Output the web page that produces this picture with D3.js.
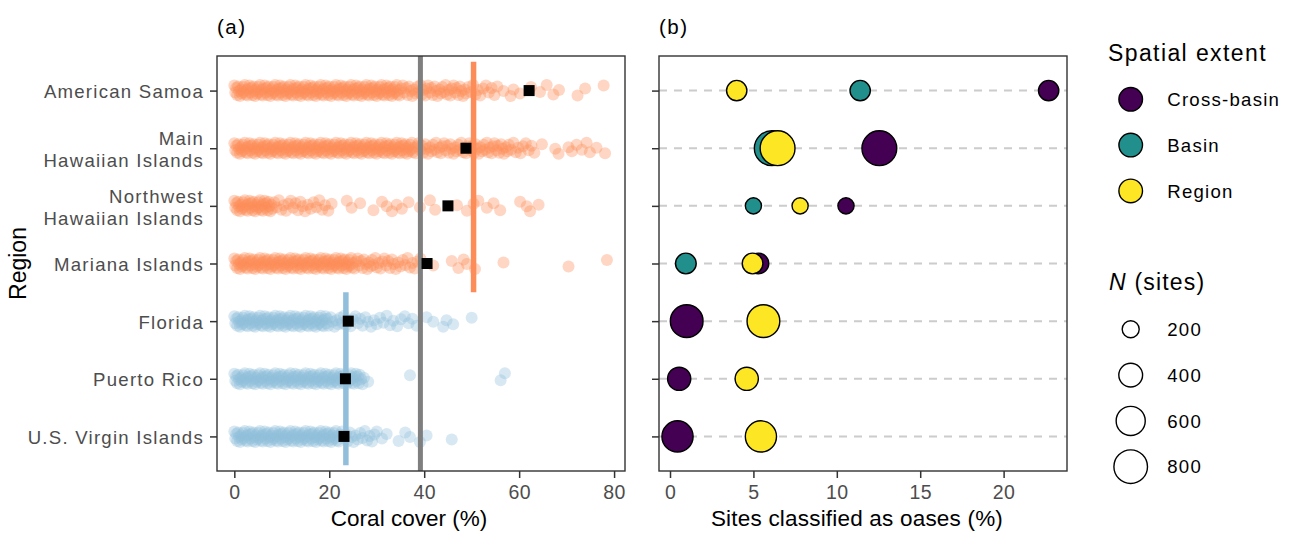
<!DOCTYPE html>
<html>
<head>
<meta charset="utf-8">
<title>Coral cover and oases by region</title>
<script src="https://cdn.jsdelivr.net/npm/d3@7"></script>
<style>
  body { margin: 0; background: #fff; }
  svg text { font-family: "Liberation Sans", Arial, Helvetica, sans-serif; }
</style>
</head>
<body>
<svg id="chart" width="1292" height="533"></svg>
<script>
var regions = ["American Samoa", "Main Hawaiian Islands", "Northwest Hawaiian Islands",
               "Mariana Islands", "Florida", "Puerto Rico", "U.S. Virgin Islands"];
var regionLines = [["American Samoa"], ["Main", "Hawaiian Islands"], ["Northwest", "Hawaiian Islands"],
                   ["Mariana Islands"], ["Florida"], ["Puerto Rico"], ["U.S. Virgin Islands"]];
var regionBasin = ["Pacific", "Pacific", "Pacific", "Pacific", "Atlantic", "Atlantic", "Atlantic"];

// coral cover (%) of each site
var coverAS = [0,0.2,0.4,0.6,0.8,1,1.2,1.4,1.6,1.8,2,2.2,2.4,2.6,2.8,3,3.2,3.4,3.6,3.8,4,4.2,4.4,4.6,4.8,5,5.2,5.4,5.6,5.8,6,6.2,6.4,6.6,6.8,7,7.2,7.4,7.6,7.8,8,8.2,8.4,8.6,8.8,9,9.2,9.4,9.6,9.8,
  10,10.2,10.4,10.6,10.8,11,11.2,11.4,11.6,11.8,12,12.2,12.4,12.6,12.8,13,13.2,13.4,13.6,13.8,14,14.2,14.4,14.6,14.8,15,15.2,15.4,15.6,15.8,16,16.2,16.4,16.6,16.8,17,17.2,17.4,17.6,17.8,18,18.2,18.4,18.6,18.8,19,19.2,19.4,19.6,19.8,
  20,20.2,20.4,20.6,20.8,21,21.2,21.4,21.6,21.8,22,22.2,22.4,22.6,22.8,23,23.2,23.4,23.6,23.8,24,24.2,24.4,24.6,24.8,25,25.2,25.4,25.6,25.8,26,26.2,26.4,26.6,26.8,27,27.2,27.4,27.6,27.8,28,28.2,28.4,28.6,28.8,29,29.2,29.4,29.6,29.8,
  30,30.2,30.4,30.6,30.8,31,31.2,31.4,31.6,31.8,32,32.2,32.4,32.6,32.8,33,33.2,33.4,33.6,33.8,34,34.2,34.4,34.6,34.8,
  35.2,35.5,35.8,36.2,36.5,36.8,37.2,37.5,37.8,38.2,38.5,38.8,39.2,39.5,39.8,40.2,40.5,40.8,41.2,41.5,41.8,42.2,42.5,42.8,43.2,43.5,43.8,44.2,44.5,44.8,
  45.2,45.5,45.8,46.2,46.5,46.8,47.2,47.5,47.8,48.2,48.5,48.8,49.3,49.8,50.3,50.8,51.3,51.8,52.4,53,53.6,54.2,54.8,55.4,
  56.7,58.2,58.8,60.2,62.5,64.4,65.8,67.2,68.4,72.3,73.9,77.8];
var coverMHI = [0,0.2,0.4,0.6,0.8,1,1.2,1.4,1.6,1.8,2,2.2,2.4,2.6,2.8,3,3.2,3.4,3.6,3.8,4,4.2,4.4,4.6,4.8,5,5.2,5.4,5.6,5.8,6,6.2,6.4,6.6,6.8,7,7.2,7.4,7.6,7.8,8,8.2,8.4,8.6,8.8,9,9.2,9.4,9.6,9.8,
  10,10.2,10.4,10.6,10.8,11,11.2,11.4,11.6,11.8,12,12.2,12.4,12.6,12.8,13,13.2,13.4,13.6,13.8,14,14.2,14.4,14.6,14.8,15,15.2,15.4,15.6,15.8,16,16.2,16.4,16.6,16.8,17,17.2,17.4,17.6,17.8,18,18.2,18.4,18.6,18.8,19,19.2,19.4,19.6,19.8,
  20,20.2,20.4,20.6,20.8,21,21.2,21.4,21.6,21.8,22,22.2,22.4,22.6,22.8,23,23.2,23.4,23.6,23.8,24,24.2,24.4,24.6,24.8,25,25.2,25.4,25.6,25.8,26,26.2,26.4,26.6,26.8,27,27.2,27.4,27.6,27.8,28,28.2,28.4,28.6,28.8,29,29.2,29.4,29.6,29.8,
  30,30.2,30.4,30.6,30.8,31,31.2,31.4,31.6,31.8,32,32.2,32.4,32.6,32.8,33,33.2,33.4,33.6,33.8,34,34.2,34.4,34.6,34.8,35,35.2,35.4,35.6,35.8,36,36.2,36.4,36.6,36.8,37,37.2,37.4,37.6,37.8,
  38.2,38.5,38.8,39.2,39.5,39.8,40.2,40.5,40.8,41.2,41.5,41.8,42.2,42.5,42.8,43.2,43.5,43.8,44.2,44.5,44.8,45.2,45.5,45.8,46.2,46.5,46.8,47.2,47.5,47.8,
  48.2,48.5,48.8,49.2,49.5,49.8,50.2,50.5,50.8,51.2,51.5,51.8,52.2,52.5,52.8,53.2,53.5,53.8,54.2,54.5,54.8,55.2,55.5,55.8,56.2,56.5,56.8,57.2,57.5,57.8,
  58.3,58.8,59.3,59.8,60.3,60.8,61.4,62,62.6,63.2,
  64.8,67.6,68.3,70.4,71.1,72.1,73.2,74.2,74.9,76.3,78.1];
var coverNWHI = [0,0.2,0.4,0.6,0.8,1,1.2,1.4,1.6,1.8,2,2.2,2.4,2.6,2.8,3,3.2,3.4,3.6,3.8,4,4.2,4.4,4.6,4.8,5,5.2,5.4,5.6,5.8,6,6.2,6.4,6.6,6.8,7,7.2,7.4,7.6,7.8,8,
  8.4,8.9,9.4,9.9,10.4,10.9,11.4,11.9,12.4,12.9,13.4,13.9,14.4,14.9,15.5,16.1,16.7,17.3,17.9,18.5,19.1,19.8,20.5,
  23.7,24.7,26.5,29.3,31.1,32.1,33.2,34.2,35.3,36.7,39.1,41.2,42.3,46.9,49,50.4,51.4,53.2,54.6,56,60.2,61.6,62.3,64.1];
var coverMariana = [0,0.2,0.4,0.6,0.8,1,1.2,1.4,1.6,1.8,2,2.2,2.4,2.6,2.8,3,3.2,3.4,3.6,3.8,4,4.2,4.4,4.6,4.8,5,5.2,5.4,5.6,5.8,6,6.2,6.4,6.6,6.8,7,7.2,7.4,7.6,7.8,8,8.2,8.4,8.6,8.8,9,9.2,9.4,9.6,9.8,
  10,10.2,10.4,10.6,10.8,11,11.2,11.4,11.6,11.8,12,12.2,12.4,12.6,12.8,13,13.2,13.4,13.6,13.8,14,14.2,14.4,14.6,14.8,15,15.2,15.4,15.6,15.8,16,16.2,16.4,16.6,16.8,17,17.2,17.4,17.6,17.8,18,18.2,18.4,18.6,18.8,19,19.2,19.4,19.6,19.8,
  20,20.2,20.4,20.6,20.8,21,21.2,21.4,21.6,21.8,22,22.2,22.4,22.6,22.8,23,23.2,23.4,23.6,23.8,24,24.2,24.4,24.6,24.8,25,
  25.3,25.7,26,26.3,26.7,27,27.3,27.7,28,28.3,28.7,29,29.3,29.7,30,30.4,30.8,31.2,31.6,32,32.4,32.8,33.2,33.6,34,34.5,35,35.5,36,36.5,37,37.5,38,38.6,39.2,
  41.9,45.8,47.2,48.3,49,50.7,56.7,70.4,78.5];
var coverFlorida = [0,0.2,0.4,0.6,0.8,1,1.2,1.4,1.6,1.8,2,2.2,2.4,2.6,2.8,3,3.2,3.4,3.6,3.8,4,4.2,4.4,4.6,4.8,5,5.2,5.4,5.6,5.8,6,6.2,6.4,6.6,6.8,7,7.2,7.4,7.6,7.8,8,8.2,8.4,8.6,8.8,9,9.2,9.4,9.6,9.8,
  10,10.2,10.4,10.6,10.8,11,11.2,11.4,11.6,11.8,12,12.2,12.4,12.6,12.8,13,13.2,13.4,13.6,13.8,14,14.2,14.4,14.6,14.8,15,15.2,15.4,15.6,15.8,16,16.2,16.4,16.6,16.8,17,17.2,17.4,17.6,17.8,18,18.2,18.4,18.6,18.8,19,19.2,19.4,19.6,19.8,
  20.3,20.7,21.1,21.5,21.9,22.3,22.7,23.1,23.5,24,24.5,25,25.5,26,26.5,27,27.6,28.2,28.8,29.4,30,30.7,31.4,32.1,32.8,33.5,34.3,35.1,35.9,36.7,37.5,
  38.4,40.5,41.9,44,44.7,46.1,50];
var coverPR = [0,0.2,0.4,0.6,0.8,1,1.2,1.4,1.6,1.8,2,2.2,2.4,2.6,2.8,3,3.2,3.4,3.6,3.8,4,4.2,4.4,4.6,4.8,5,5.2,5.4,5.6,5.8,6,6.2,6.4,6.6,6.8,7,7.2,7.4,7.6,7.8,8,8.2,8.4,8.6,8.8,9,9.2,9.4,9.6,9.8,
  10,10.2,10.4,10.6,10.8,11,11.2,11.4,11.6,11.8,12,12.2,12.4,12.6,12.8,13,13.2,13.4,13.6,13.8,14,14.2,14.4,14.6,14.8,15,15.2,15.4,15.6,15.8,16,16.2,16.4,16.6,16.8,17,17.2,17.4,17.6,17.8,18,18.2,18.4,18.6,18.8,19,19.2,19.4,19.6,19.8,
  20,20.2,20.4,20.6,20.8,21,21.2,21.4,21.6,21.8,22,22.2,22.4,22.6,22.8,23,23.2,23.4,23.6,23.8,24,24.2,24.4,24.6,24.8,25,25.2,25.4,25.6,25.8,26,
  26.2,26.4,26.7,27,27.3,28.2,37,56.1,57];
var coverUSVI = [0,0.2,0.4,0.6,0.8,1,1.2,1.4,1.6,1.8,2,2.2,2.4,2.6,2.8,3,3.2,3.4,3.6,3.8,4,4.2,4.4,4.6,4.8,5,5.2,5.4,5.6,5.8,6,6.2,6.4,6.6,6.8,7,7.2,7.4,7.6,7.8,8,8.2,8.4,8.6,8.8,9,9.2,9.4,9.6,9.8,
  10,10.2,10.4,10.6,10.8,11,11.2,11.4,11.6,11.8,12,12.2,12.4,12.6,12.8,13,13.2,13.4,13.6,13.8,14,14.2,14.4,14.6,14.8,15,15.2,15.4,15.6,15.8,16,16.2,16.4,16.6,16.8,17,17.2,17.4,17.6,17.8,18,18.2,18.4,18.6,18.8,19,19.2,19.4,19.6,19.8,
  20,20.2,20.4,20.6,20.8,21,21.2,21.4,21.6,21.8,22,
  22.3,22.7,23.1,23.5,23.9,24.3,24.7,25.1,25.5,26,26.5,27,27.5,28,28.5,29,29.5,30,
  31.1,32.1,34.6,36,37,39.1,40.5,45.8];
var coverByRegion = [coverAS, coverMHI, coverNWHI, coverMariana, coverFlorida, coverPR, coverUSVI];

var coverMeans = [62.1, 48.8, 45.0, 40.6, 24.0, 23.4, 23.1];
var basins = ["Pacific", "Atlantic"];
var basinMeans = [50.4, 23.5];
var overallMean = 39.2;

// panel (b): % of sites classified as oases, per spatial extent
var extents = ["Cross-basin", "Basin", "Region"];
var oasisCrossBasin = [22.7, 12.55, 10.55, 5.3, 1.0, 0.55, 0.45];
var oasisBasin = [11.4, 6.1, 5.0, 0.95, null, null, null];
var oasisRegion = [4.0, 6.45, 7.8, 4.95, 5.6, 4.6, 5.45];
var nSites = [290, 860, 180, 300, 760, 380, 690];

var coverTicks = [0, 20, 40, 60, 80];
var oasisTicks = [0, 5, 10, 15, 20];
var sizeBreaks = [200, 400, 600, 800];

var basinColor = { Pacific: "#FC8D59", Atlantic: "#91BFDB" };
var extentColor = { "Cross-basin": "#440154", "Basin": "#21908C", "Region": "#FDE725" };
var jitter = [-5, 2, -2.5, 4.5, -4, 0.5, 5.5, -1, 3, -3.5, 1.5, -5.5, 4, -0.5, 5, -2];

var svg = d3.select("#chart");
var plotTop = 56, plotBottom = 471;
var pa = { left: 217, right: 625 }, pb = { left: 659, right: 1067 };

var y = d3.scalePoint().domain(regions).range([plotTop, plotBottom]).padding(0.6);
var step = y.step();
var xa = d3.scaleLinear().domain([-3.65, 82.3]).range([pa.left, pa.right]);
var xb = d3.scaleLinear().domain([-0.66, 23.8]).range([pb.left, pb.right]);
// area grows linearly with N, like ggplot's scale_size
var area = d3.scaleLinear().domain([0, 800]).range([11, 306]);
function rad(n) { return Math.sqrt(area(n)) - 0.7; }

function styleAxis(g) {
    g.select(".domain").remove();
    g.selectAll(".tick line").attr("stroke", "#333").attr("stroke-width", 1.5);
    g.selectAll(".tick text").attr("fill", "#4D4D4D").attr("font-size", "19.5px").attr("letter-spacing", "0.4px");
}

// ---------- panel (a) ----------
var ga = svg.append("g");
var pts = [];
regions.forEach(function(r, i) {
    coverByRegion[i].forEach(function(v, k) {
        pts.push({ region: r, basin: regionBasin[i], value: v, k: k });
    });
});
ga.selectAll("circle.site")
    .data(pts)
    .enter()
    .append("circle")
    .attr("class", "site")
    .attr("cx", function(d) { return xa(d.value); })
    .attr("cy", function(d) { return y(d.region) + jitter[d.k % jitter.length]; })
    .attr("r", 6)
    .attr("fill", function(d) { return basinColor[d.basin]; })
    .attr("fill-opacity", 0.36);

ga.append("line")
    .attr("x1", xa(overallMean)).attr("x2", xa(overallMean))
    .attr("y1", plotTop).attr("y2", plotBottom)
    .attr("stroke", "#7F7F7F").attr("stroke-width", 5);

basins.forEach(function(b, i) {
    var rs = regions.filter(function(r, j) { return regionBasin[j] == b; });
    ga.append("line")
        .attr("x1", xa(basinMeans[i])).attr("x2", xa(basinMeans[i]))
        .attr("y1", y(rs[0]) - step / 2).attr("y2", y(rs[rs.length - 1]) + step / 2)
        .attr("stroke", basinColor[b]).attr("stroke-width", 5.5);
});

ga.selectAll("rect.mean")
    .data(coverMeans)
    .enter()
    .append("rect")
    .attr("class", "mean")
    .attr("x", function(d) { return xa(d) - 5.5; })
    .attr("y", function(d, i) { return y(regions[i]) - 5.5; })
    .attr("width", 11).attr("height", 11)
    .attr("fill", "#000");

ga.append("rect")
    .attr("x", pa.left).attr("y", plotTop)
    .attr("width", pa.right - pa.left).attr("height", plotBottom - plotTop)
    .attr("fill", "none").attr("stroke", "#333").attr("stroke-width", 1.4);

var axA = ga.append("g")
    .attr("transform", "translate(0," + plotBottom + ")")
    .call(d3.axisBottom(xa).tickValues(coverTicks).tickSize(7).tickPadding(7.5));
styleAxis(axA);

var ayA = ga.append("g")
    .attr("transform", "translate(" + pa.left + ",0)")
    .call(d3.axisLeft(y).tickSize(7).tickFormat(""));
styleAxis(ayA);
ayA.selectAll(".tick").each(function(d, i) {
    var lines = regionLines[i];
    var t = d3.select(this).append("text")
        .attr("text-anchor", "end")
        .attr("fill", "#4D4D4D")
        .attr("font-size", "18.6px")
        .attr("letter-spacing", "1.25px");
    lines.forEach(function(s, j) {
        t.append("tspan")
            .attr("x", -13)
            .attr("y", lines.length == 1 ? 7 : (j == 0 ? -3.6 : 18.4))
            .text(s);
    });
});

ga.append("text")
    .attr("x", 409).attr("y", 526)
    .attr("text-anchor", "middle").attr("font-size", "22.5px").attr("fill", "#000")
    .text("Coral cover (%)");
ga.append("text")
    .attr("transform", "translate(26," + ((plotTop + plotBottom) / 2) + ") rotate(-90)")
    .attr("text-anchor", "middle").attr("font-size", "23px").attr("fill", "#000")
    .text("Region");
ga.append("text")
    .attr("x", pa.left).attr("y", 33.5)
    .attr("font-size", "20.5px").attr("letter-spacing", "1.5px").attr("fill", "#000")
    .text("(a)");

// ---------- panel (b) ----------
var gb = svg.append("g");
gb.selectAll("line.grid")
    .data(regions)
    .enter()
    .append("line")
    .attr("class", "grid")
    .attr("x1", pb.left).attr("x2", pb.right)
    .attr("y1", function(d) { return y(d); }).attr("y2", function(d) { return y(d); })
    .attr("stroke", "#CCCCCC").attr("stroke-width", 2)
    .attr("stroke-dasharray", "8,7");

var oasisSeries = [oasisCrossBasin, oasisBasin, oasisRegion];
extents.forEach(function(ex, e) {
    var rows = [];
    oasisSeries[e].forEach(function(v, i) {
        if (v != null) rows.push({ region: regions[i], value: v, n: nSites[i] });
    });
    gb.selectAll("circle.ex" + e)
        .data(rows)
        .enter()
        .append("circle")
        .attr("class", "ex" + e)
        .attr("cx", function(d) { return xb(d.value); })
        .attr("cy", function(d) { return y(d.region); })
        .attr("r", function(d) { return rad(d.n); })
        .attr("fill", extentColor[ex])
        .attr("stroke", "#000").attr("stroke-width", 1.4);
});

gb.append("rect")
    .attr("x", pb.left).attr("y", plotTop)
    .attr("width", pb.right - pb.left).attr("height", plotBottom - plotTop)
    .attr("fill", "none").attr("stroke", "#333").attr("stroke-width", 1.4);

var axB = gb.append("g")
    .attr("transform", "translate(0," + plotBottom + ")")
    .call(d3.axisBottom(xb).tickValues(oasisTicks).tickSize(7).tickPadding(7.5));
styleAxis(axB);
var ayB = gb.append("g")
    .attr("transform", "translate(" + pb.left + ",0)")
    .call(d3.axisLeft(y).tickSize(7).tickFormat(""));
styleAxis(ayB);

gb.append("text")
    .attr("x", 857).attr("y", 526)
    .attr("text-anchor", "middle").attr("font-size", "22.5px").attr("letter-spacing", "0.2px").attr("fill", "#000")
    .text("Sites classified as oases (%)");
gb.append("text")
    .attr("x", pb.left).attr("y", 33.5)
    .attr("font-size", "20.5px").attr("letter-spacing", "1.5px").attr("fill", "#000")
    .text("(b)");

// ---------- legends ----------
var lg = svg.append("g");
lg.append("text")
    .attr("x", 1108).attr("y", 60.5)
    .attr("font-size", "23px").attr("letter-spacing", "1.4px")
    .text("Spatial extent");
var extKey = lg.selectAll("g.ext")
    .data(extents)
    .enter()
    .append("g")
    .attr("class", "ext")
    .attr("transform", function(d, i) { return "translate(1130.7," + (99.3 + i * 45.8) + ")"; });
extKey.append("circle")
    .attr("r", 11.8)
    .attr("fill", function(d) { return extentColor[d]; })
    .attr("stroke", "#000").attr("stroke-width", 1.4);
extKey.append("text")
    .attr("x", 36.5).attr("y", 6.6)
    .attr("font-size", "18.6px").attr("letter-spacing", "1.25px")
    .text(function(d) { return d; });

var nTitle = lg.append("text")
    .attr("x", 1109).attr("y", 290)
    .attr("font-size", "23px").attr("letter-spacing", "1.2px");
nTitle.append("tspan").attr("font-style", "italic").text("N");
nTitle.append("tspan").text(" (sites)");

var sizeKey = lg.selectAll("g.size")
    .data(sizeBreaks)
    .enter()
    .append("g")
    .attr("class", "size")
    .attr("transform", function(d, i) { return "translate(1130.7," + (329.3 + i * 45.8) + ")"; });
sizeKey.append("circle")
    .attr("r", function(d) { return rad(d); })
    .attr("fill", "#fff")
    .attr("stroke", "#000").attr("stroke-width", 1.4);
sizeKey.append("text")
    .attr("x", 36.5).attr("y", 6.6)
    .attr("font-size", "18.6px").attr("letter-spacing", "1.25px")
    .text(function(d) { return d; });
</script>
</body>
</html>
